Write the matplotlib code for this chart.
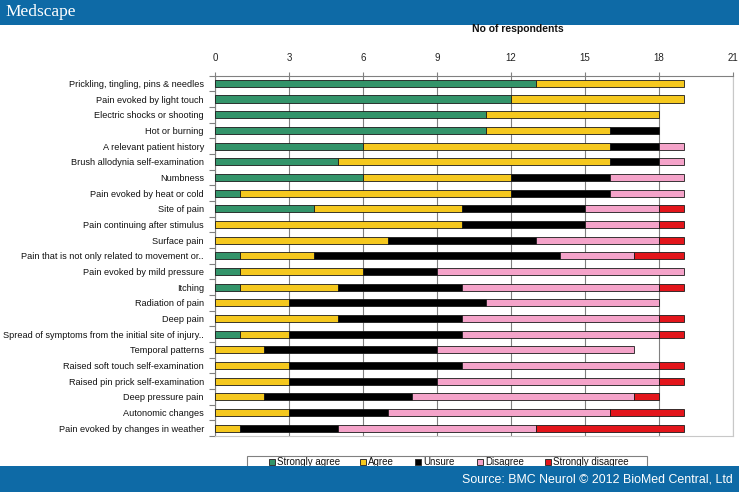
import matplotlib
matplotlib.use("Agg")
import matplotlib.pyplot as plt
from matplotlib.patches import Rectangle
from matplotlib.ticker import FixedLocator
import numpy as np

plt.rcParams['font.family'] = ['Liberation Sans', 'DejaVu Sans']

categories = [
    "Prickling, tingling, pins & needles",
    "Pain evoked by light touch",
    "Electric shocks or shooting",
    "Hot or burning",
    "A relevant patient history",
    "Brush allodynia self-examination",
    "Numbness",
    "Pain evoked by heat or cold",
    "Site of pain",
    "Pain continuing after stimulus",
    "Surface pain",
    "Pain that is not only related to movement or..",
    "Pain evoked by mild pressure",
    "Itching",
    "Radiation of pain",
    "Deep pain",
    "Spread of symptoms from the initial site of injury..",
    "Temporal patterns",
    "Raised soft touch self-examination",
    "Raised pin prick self-examination",
    "Deep pressure pain",
    "Autonomic changes",
    "Pain evoked by changes in weather",
]
strongly_agree = [13, 12, 11, 11, 6, 5, 6, 1, 4, 0, 0, 1, 1, 1, 0, 0, 1, 0, 0, 0, 0, 0, 0]
agree = [6, 7, 7, 5, 10, 11, 6, 11, 6, 10, 7, 3, 5, 4, 3, 5, 2, 2, 3, 3, 2, 3, 1]
unsure = [0, 0, 0, 2, 2, 2, 4, 4, 5, 5, 6, 10, 3, 5, 8, 5, 7, 7, 7, 6, 6, 4, 4]
disagree = [0, 0, 0, 0, 1, 1, 3, 3, 3, 3, 5, 3, 10, 8, 7, 8, 8, 8, 8, 9, 9, 9, 8]
strongly_disagree = [0, 0, 0, 0, 0, 0, 0, 0, 1, 1, 1, 2, 0, 1, 0, 1, 1, 0, 1, 1, 1, 3, 6]

series_names = ["Strongly agree", "Agree", "Unsure", "Disagree", "Strongly disagree"]
series = [strongly_agree, agree, unsure, disagree, strongly_disagree]
colors = ["#33946a", "#f5c81e", "#000000", "#f4a3c9", "#e3151b"]
x_ticks = [0, 3, 6, 9, 12, 15, 18, 21]

W, H = 739, 492
fig = plt.figure(figsize=(W / 100, H / 100), dpi=100)

def fx(px):
    return px / W

def fy(py):
    return 1 - py / H

# axes placement
left, right, top, bottom = 215, 733, 75.5, 436
ax = fig.add_axes([fx(left), fy(bottom), (right - left) / W, (bottom - top) / H])

n = len(categories)
y = np.arange(n)
cum = np.zeros(n)
for name, vals, col in zip(series_names, series, colors):
    v = np.array(vals, dtype=float)
    lw = np.where(v > 0, 0.6, 0.0)
    ax.barh(y, v, left=cum, height=0.45, color=col, edgecolor="#1a1a1a",
            linewidth=lw, zorder=3, label=name)
    cum += v

ax.set_xlim(0, 21)
ax.set_ylim(n - 0.5, -0.5)
ax.xaxis.tick_top()
ax.set_xticks(x_ticks)
ax.set_xticklabels([str(t) for t in x_ticks])
ax.tick_params(axis='x', which='major', length=3, width=0.8, color="#808080",
               labelsize=7, labelcolor="#222222", pad=6)
ax.grid(axis='x', color="#808080", linewidth=0.8, zorder=0)

ax.set_yticks(y)
ax.set_yticklabels(categories)
ax.tick_params(axis='y', which='major', length=0, labelsize=6.6, labelcolor="#111111", pad=8)
ax.yaxis.set_minor_locator(FixedLocator(np.arange(-0.5, n, 1.0)))
ax.tick_params(axis='y', which='minor', length=4, width=0.8, color="#808080", direction='out')

ax.spines['top'].set_color("#808080")
ax.spines['left'].set_color("#808080")
ax.spines['right'].set_color("#c8c8c8")
ax.spines['bottom'].set_color("#c8c8c8")
for s in ax.spines.values():
    s.set_linewidth(0.8)

# title
fig.text(fx(518), fy(29), "No of respondents", ha='center', va='center',
         fontsize=7.5, fontweight='bold', color="#111111")

# header band
band_col = "#0e6aa6"
fig.patches.append(Rectangle((0, fy(25)), 1, 25 / H, transform=fig.transFigure,
                             facecolor=band_col, edgecolor='none', zorder=1))
fig.text(fx(5), fy(12), "Medscape", ha='left', va='center', fontsize=12.5,
         family=['Liberation Serif', 'DejaVu Serif'], color='white', zorder=4)

# legend box (manual)
fig.patches.append(Rectangle((fx(247), fy(470)), (647 - 247) / W, 14 / H,
                             transform=fig.transFigure, facecolor='white',
                             edgecolor="#808080", linewidth=0.8, zorder=1))
leg_x = [272, 363, 418, 480, 548]
for name, col, lx in zip(series_names, colors, leg_x):
    fig.patches.append(Rectangle((fx(lx - 3), fy(465)), 6 / W, 6 / H,
                                 transform=fig.transFigure, facecolor=col,
                                 edgecolor="#333333", linewidth=0.7, zorder=2))
    fig.text(fx(lx + 5), fy(462), name, ha='left', va='center', fontsize=7,
             color="#111111", zorder=2)

# footer band
fig.patches.append(Rectangle((0, 0), 1, (H - 466) / H, transform=fig.transFigure,
                             facecolor=band_col, edgecolor='none', zorder=3))
fig.text(fx(733), fy(479), "Source: BMC Neurol \u00a9 2012 BioMed Central, Ltd",
         ha='right', va='center', fontsize=8.9, color='white', zorder=4)

fig.savefig("out.png", dpi=100)
